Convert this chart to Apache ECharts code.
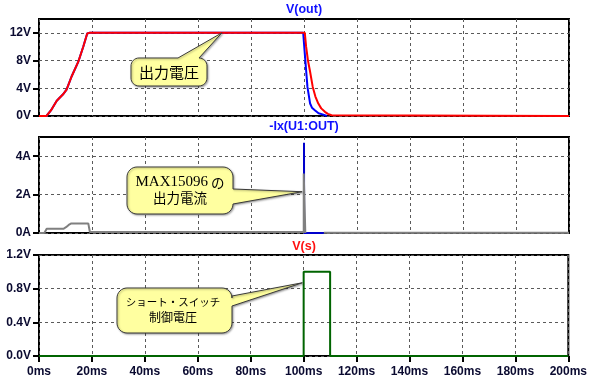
<!DOCTYPE html>
<html><head><meta charset="utf-8">
<script src="https://cdn.jsdelivr.net/npm/echarts@6/dist/echarts.min.js"></script>
<style>html,body{margin:0;padding:0;background:#fff}#c{width:590px;height:385px}</style>
</head><body><div id="c"></div>
<script>
// ---- data ----
const xTicks = [0,20,40,60,80,100,120,140,160,180,200];
const xTickLabels = ['0ms','20ms','40ms','60ms','80ms','100ms','120ms','140ms','160ms','180ms','200ms'];

const voutTicks = [0,4,8,12];
const voutTickLabels = ['0V','4V','8V','12V'];
const ixTicks = [0,2,4];
const ixTickLabels = ['0A','2A','4A'];
const vsTicks = [0,0.4,0.8,1.2];
const vsTickLabels = ['0.0V','0.4V','0.8V','1.2V'];

const panelTitles = ['V(out)','-Ix(U1:OUT)','V(s)'];

// V(out) red trace (ms, V)
const voutRed = [[0,0],[2.8,0],[4.5,0.8],[6.7,2.2],[9,3.1],[10.4,3.8],[12.3,5.7],[14.8,7.8],[16.7,10],[18.2,11.9],[19,12],
  [100.3,12],[100.8,10],[101.5,8],[102.2,6.6],[103.3,4.2],[104.3,2.8],[105.4,1.8],[106.5,1.1],[107.9,0.6],[109,0.3],[110.4,0.1],[111,0],[200,0]];
// V(out) blue trace
const voutBlue = [[0,0],[2.8,0],[4.5,0.8],[6.7,2.2],[9,3.1],[10.4,3.8],[12.3,5.7],[14.8,7.8],[16.7,10],[18.2,11.9],[19,12],
  [99.7,12],[100.3,9],[100.8,6.6],[101.3,4.2],[102.3,1.8],[103,1.2],[104.2,0.8],[105.5,0.4],[107.3,0.2],[108.6,0]];
// -Ix(U1:OUT) gray trace (ms, A)
const ixGray = [[0,0],[2.0,0],[2.9,0.22],[9.2,0.22],[10.2,0.3],[11.2,0.42],[12.2,0.5],[18.6,0.5],[19.2,0.05],
  [99.9,0.05],[99.9,3.1],[100.5,3.1],[100.5,0],[100.6,null],[107.5,0.01],[200,0.01]];
// -Ix(U1:OUT) blue trace
const ixBlue = [[100,0],[100,4.7],[100.05,0],[107.5,0]];
// V(s) green trace (ms, V)
const vs = [[0,0],[100,0],[100,1.0],[110,1.0],[110,0],[200,0]];

// callouts: text and anchor (ms, value) of the pointer tip
const calloutTexts = ['出力電圧', 'MAX15096 の\n出力電流', 'ショート・スイッチ\n制御電圧'];
const calloutAnchors = [[69,12],[99.3,2.15],[99.5,0.87]];

// ---- chart ----
const LBL = '#0a0a30';
const FONT = 'Liberation Sans, Arial, sans-serif';
const dash = {color:'#5a5a5a', width:1, type:[3,3]};
const gridBase = {show:true, borderColor:'#000', borderWidth:2, backgroundColor:'transparent', containLabel:false};
const grids = [
  Object.assign({left:39, right:21, top:19, height:97}, gridBase),
  Object.assign({left:39, right:21, top:137, height:96}, gridBase),
  Object.assign({left:39, right:21, top:255, height:101}, gridBase)
];
function xAx(i, bottom){
  return {type:'value', gridIndex:i, min:0, max:200, interval:20,
    axisLine:{show:false},
    axisTick:{show:bottom, length:6, lineStyle:{color:'#000', width:2}},
    axisLabel:{show:bottom, margin:10, fontSize:12, fontWeight:'bold', fontFamily:FONT, color:LBL,
      formatter:v=>{const k=xTicks.indexOf(v); return k>=0?xTickLabels[k]:'';}},
    splitLine:{show:true, lineStyle:dash}};
}
function yAx(i, min, max, interval, ticks, labels){
  return {type:'value', gridIndex:i, min:min, max:max, interval:interval,
    axisLine:{show:false},
    axisTick:{show:true, length:6, lineStyle:{color:'#000', width:2}, customValues:ticks},
    axisLabel:{show:true, margin:8, fontSize:12, fontWeight:'bold', fontFamily:FONT, color:LBL, customValues:ticks,
      formatter:v=>{let k=-1; ticks.forEach((t,j)=>{if(Math.abs(t-v)<1e-9)k=j;}); return k>=0?labels[k]:'';}},
    splitLine:{show:true, lineStyle:dash}};
}
function ln(data, color, xi, w){
  return {type:'line', data:data, xAxisIndex:xi, yAxisIndex:xi, showSymbol:false, symbol:'none',
    lineStyle:{color:color, width:w||2}, itemStyle:{color:color}, animation:false, silent:true, connectNulls:false};
}
const chart = echarts.init(document.getElementById('c'), null, {renderer:'canvas'});
chart.setOption({
  animation:false,
  backgroundColor:'#fff',
  grid:grids,
  xAxis:[xAx(0,false), xAx(1,false), xAx(2,true)],
  yAxis:[yAx(0,0,14,4,voutTicks,voutTickLabels), yAx(1,0,5,2,ixTicks,ixTickLabels), yAx(2,0,1.2,0.4,vsTicks,vsTickLabels)],
  series:[
    ln(voutBlue,'#0000ff',0), ln(voutRed,'#ff0000',0),
    ln(ixBlue,'#0000cc',1), ln(ixGray,'#808080',1),
    ln(vs,'#006400',2)
  ]
});

// panel titles
const titleY = [10,127,246.5];
const titleColors = ['#1010ff','#1010ff','#ff1010'];
const graphics = [];
panelTitles.forEach((t,i)=>{
  graphics.push({type:'text', x:304, y:titleY[i], z:100,
    style:{text:t, textAlign:'center', textVerticalAlign:'middle', fill:titleColors[i], font:'bold 12.5px '+FONT}});
});

// callouts
function calloutPoints(x,y,w,h,r,tail){
  const pts=[];
  function arc(cx,cy,a0,a1){for(let k=0;k<=8;k++){const a=(a0+(a1-a0)*k/8)*Math.PI/180;pts.push([cx+r*Math.cos(a),cy+r*Math.sin(a)]);}}
  arc(x+r,y+r,180,270);
  if(tail.edge==='top'){pts.push([tail.a,y],tail.apex,[tail.b,y]);}
  arc(x+w-r,y+r,270,360);
  if(tail.edge==='right'){pts.push([x+w,tail.a],tail.apex,[x+w,tail.b]);}
  arc(x+w-r,y+h-r,0,90);
  arc(x+r,y+h-r,90,180);
  return pts;
}
const boxes = [
  {x:131,y:58,w:76,h:28,r:8,edge:'top',a:178,b:199,grid:0},
  {x:127,y:167,w:106,h:47,r:10,edge:'right',a:189,b:204,grid:1},
  {x:117,y:288,w:115,h:45,r:10,edge:'right',a:296,b:306,grid:2}
];
const textStyles = [
  {x:169,y:72,style:{text:calloutTexts[0], font:'15px Noto Sans CJK JP'}},
  {x:180,y:190,style:{text:'{a|MAX15096}{b| の}\n{b|出力電流}',
     rich:{a:{fontFamily:'Liberation Serif', fontSize:15, lineHeight:15, fill:'#000'}, b:{fontFamily:'Noto Sans CJK JP', fontSize:13.5, lineHeight:15, fill:'#000'}}}},
  {x:173,y:310,style:{text:'{k|ショート・スイッチ}\n{c|制御電圧}',
     rich:{k:{fontFamily:'Noto Sans CJK JP', fontSize:10.5, lineHeight:15, fill:'#000'}, c:{fontFamily:'Noto Sans CJK JP', fontSize:12, lineHeight:15, fill:'#000'}}}}
];
boxes.forEach((b,i)=>{
  const apex = chart.convertToPixel({gridIndex:b.grid}, calloutAnchors[i]);
  graphics.push({type:'polygon', z:100, shape:{points:calloutPoints(b.x,b.y,b.w,b.h,b.r,{edge:b.edge,a:b.a,b:b.b,apex:apex})},
    style:{fill:'#ffffa0', stroke:'#3a3a3a', lineWidth:1, shadowBlur:2, shadowColor:'rgba(0,0,0,0.35)', shadowOffsetX:1, shadowOffsetY:1}});
  const ts = textStyles[i];
  graphics.push({type:'text', z:101, x:ts.x, y:ts.y,
    style:Object.assign({textAlign:'center', textVerticalAlign:'middle', fill:'#000'}, ts.style)});
});
chart.setOption({graphic:graphics});
</script>
</body></html>
